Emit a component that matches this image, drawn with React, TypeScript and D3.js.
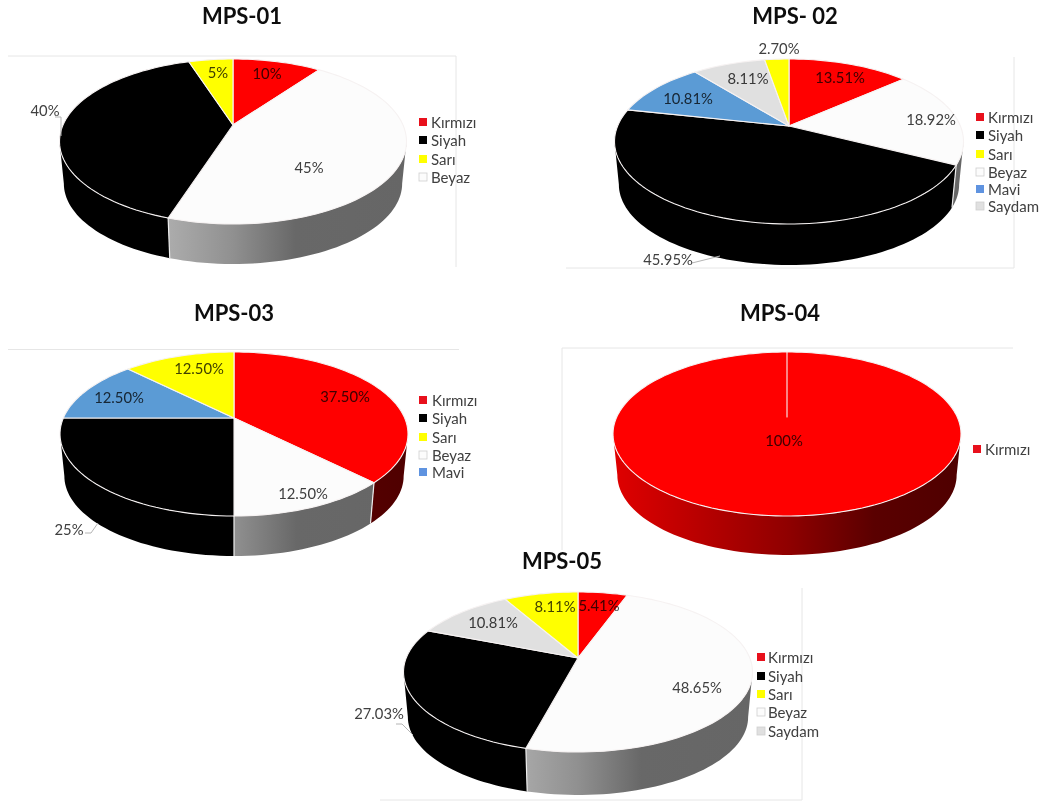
import React from "react";
import * as d3 from "d3";

// ---------- data ----------
const mps01Order = ["Kırmızı", "Beyaz", "Siyah", "Sarı"];
const mps01Values = [10, 45, 40, 5];
const mps01Labels = ["10%", "45%", "40%", "5%"];
const mps01Legend = ["Kırmızı", "Siyah", "Sarı", "Beyaz"];

const mps02Order = ["Kırmızı", "Beyaz", "Siyah", "Mavi", "Saydam", "Sarı"];
const mps02Values = [13.51, 18.92, 45.95, 10.81, 8.11, 2.7];
const mps02Labels = ["13.51%", "18.92%", "45.95%", "10.81%", "8.11%", "2.70%"];
const mps02Legend = ["Kırmızı", "Siyah", "Sarı", "Beyaz", "Mavi", "Saydam"];

const mps03Order = ["Kırmızı", "Beyaz", "Siyah", "Mavi", "Sarı"];
const mps03Values = [37.5, 12.5, 25, 12.5, 12.5];
const mps03Labels = ["37.50%", "12.50%", "25%", "12.50%", "12.50%"];
const mps03Legend = ["Kırmızı", "Siyah", "Sarı", "Beyaz", "Mavi"];

const mps04Order = ["Kırmızı"];
const mps04Values = [100];
const mps04Labels = ["100%"];
const mps04Legend = ["Kırmızı"];

const mps05Order = ["Kırmızı", "Beyaz", "Siyah", "Saydam", "Sarı"];
const mps05Values = [5.41, 48.65, 27.03, 10.81, 8.11];
const mps05Labels = ["5.41%", "48.65%", "27.03%", "10.81%", "8.11%"];
const mps05Legend = ["Kırmızı", "Siyah", "Sarı", "Beyaz", "Saydam"];

// ---------- styles ----------
const topColor: Record<string, string> = {
  "Kırmızı": "#ff0000",
  Siyah: "#000000",
  "Sarı": "#ffff00",
  Beyaz: "#fcfcfc",
  Mavi: "#5b9bd5",
  Saydam: "#e0e0e0",
};
const swatchColor: Record<string, string> = {
  ...topColor,
  Mavi: "#5f93e0",
  "Kırmızı": "#e8101c",
};
const FONT = "Lato, 'Open Sans', sans-serif";

// ---------- layout (pixels) ----------
type Layout = {
  title: string; titleX: number; titleY: number;
  ax: number; ay: number; rx: number; top: number; front: number; bottom: number;
  labelPos: [number, number][];
  leader?: [number, number][];
  legendX: number; legendTextX: number; legendY: number[];
  frame: [number, number][];
};

const pies: { id: string; order: string[]; values: number[]; labels: string[]; legend: string[]; l: Layout }[] = [
  {
    id: "p1", order: mps01Order, values: mps01Values, labels: mps01Labels, legend: mps01Legend,
    l: {
      title: "MPS-01", titleX: 242, titleY: 15, ax: 233, ay: 125, rx: 173.5, top: 59, front: 224, bottom: 264,
      labelPos: [[267, 73], [309, 167], [45, 110], [218, 72]],
      leader: [[55, 117], [61, 117], [61, 136]],
      legendX: 419, legendTextX: 431, legendY: [122, 140, 159, 177],
      frame: [[8, 56], [456, 56], [456, 267]],
    },
  },
  {
    id: "p2", order: mps02Order, values: mps02Values, labels: mps02Labels, legend: mps02Legend,
    l: {
      title: "MPS- 02", titleX: 795, titleY: 15, ax: 789, ay: 126, rx: 174.5, top: 59, front: 224, bottom: 265,
      labelPos: [[840, 77], [931, 119], [668, 259], [688, 98], [748, 78], [779, 48]],
      leader: [[692, 263], [720, 256]],
      legendX: 976, legendTextX: 988, legendY: [117, 135, 154, 172, 189, 206],
      frame: [[1014, 57], [1014, 268], [566, 268]],
    },
  },
  {
    id: "p3", order: mps03Order, values: mps03Values, labels: mps03Labels, legend: mps03Legend,
    l: {
      title: "MPS-03", titleX: 234, titleY: 312, ax: 234, ay: 418, rx: 174, top: 352, front: 516, bottom: 556,
      labelPos: [[345, 396], [303, 493], [69, 529], [119, 397], [199, 368]],
      leader: [[85, 533], [91, 533], [98, 523]],
      legendX: 419, legendTextX: 432, legendY: [400, 418, 437, 455, 472],
      frame: [[8, 349.5], [459, 349.5]],
    },
  },
  {
    id: "p4", order: mps04Order, values: mps04Values, labels: mps04Labels, legend: mps04Legend,
    l: {
      title: "MPS-04", titleX: 780, titleY: 312, ax: 787, ay: 417, rx: 174, top: 352, front: 516, bottom: 555,
      labelPos: [[784, 440]],
      legendX: 973, legendTextX: 985, legendY: [449],
      frame: [[1013, 348], [562, 348], [562, 550]],
    },
  },
  {
    id: "p5", order: mps05Order, values: mps05Values, labels: mps05Labels, legend: mps05Legend,
    l: {
      title: "MPS-05", titleX: 562, titleY: 560, ax: 578, ay: 658, rx: 174.5, top: 592, front: 752, bottom: 795,
      labelPos: [[599, 605], [697, 687], [379, 713], [493, 622], [555, 606]],
      leader: [[396, 724], [402, 724], [413, 735]],
      legendX: 757, legendTextX: 768, legendY: [657, 676, 694, 712, 731],
      frame: [[802, 588], [802, 800], [380, 800]],
    },
  },
];

const BOTTOM_SCALE = 0.975;
const lineGen = d3.line<[number, number]>();

function Pie({ id, order, values, labels, legend, l }: (typeof pies)[number]) {
  const t = l.ay - l.top;
  const f = l.front - l.ay;
  const k = (f - t) / (f + t);
  const B = t * (1 + k);
  const A = l.rx * Math.sqrt(1 - k * k);
  const bottomAy = l.bottom - BOTTOM_SCALE * f;

  const project = (a: number, level: 0 | 1): [number, number] => {
    const u = Math.sin(a);
    const v = -Math.cos(a);
    const w = 1 - k * v;
    const s = level === 0 ? 1 : BOTTOM_SCALE;
    const y0 = level === 0 ? l.ay : bottomAy;
    return [l.ax + (s * A * u) / w, y0 + (s * B * v) / w];
  };

  const arcs = d3.pie<number>().sort(null)(values);
  const sample = (a0: number, a1: number): number[] => {
    const n = Math.max(2, Math.ceil(((a1 - a0) / Math.PI) * 90));
    return d3.range(n + 1).map((i) => a0 + ((a1 - a0) * i) / n);
  };

  const visStart = Math.acos(-k);
  const visEnd = 2 * Math.PI - visStart;

  const sideFill = (name: string) => {
    if (name === "Kırmızı") return `url(#${id}-red)`;
    if (name === "Beyaz") return `url(#${id}-grey)`;
    if (name === "Siyah") return "#000";
    return d3.color(topColor[name])!.darker(1.5).formatHex();
  };

  const grad = (suffix: string, stops: [number, string][]) => (
    <linearGradient id={`${id}-${suffix}`} gradientUnits="userSpaceOnUse" x1={l.ax - l.rx} x2={l.ax + l.rx} y1={0} y2={0}>
      {stops.map(([o, c]) => <stop key={o} offset={o} stopColor={c} />)}
    </linearGradient>
  );

  const cuts = arcs
    .map((d) => d.startAngle)
    .filter((a) => a > visStart && a < visEnd);

  return (
    <g>
      <defs>
        {grad("red", [[0, "#e00000"], [0.3, "#b00000"], [0.5, "#900000"], [0.75, "#5a0000"], [1, "#4f0000"]])}
        {grad("grey", [[0, "#d0d0d0"], [0.3, "#aeaeae"], [0.5, "#909090"], [0.68, "#686868"], [1, "#666666"]])}
      </defs>

      <path d={lineGen(l.frame) ?? ""} fill="none" stroke="#e6e6e6" strokeWidth={1} />

      {/* side wall */}
      {arcs.map((d, i) => {
        const a0 = Math.max(d.startAngle, visStart);
        const a1 = Math.min(d.endAngle, visEnd);
        if (a1 <= a0) return null;
        const as = sample(a0, a1);
        const pts = [
          ...as.map((a) => project(a, 0)),
          ...as.slice().reverse().map((a) => project(a, 1)),
        ];
        return <path key={i} d={(lineGen(pts) ?? "") + "Z"} fill={sideFill(order[i])} />;
      })}
      {cuts.map((a, i) => (
        <path key={i} d={lineGen([project(a, 0), project(a, 1)]) ?? ""} stroke="#eeeeee" strokeWidth={1.2} fill="none" />
      ))}

      {/* top surface */}
      {arcs.map((d, i) => {
        const pts: [number, number][] = [[l.ax, l.ay], ...sample(d.startAngle, d.endAngle).map((a) => project(a, 0))];
        return <path key={i} d={(lineGen(pts) ?? "") + "Z"} fill={topColor[order[i]]} stroke="#f6f2f2" strokeWidth={1.1} strokeLinejoin="round" />;
      })}

      {/* leader */}
      {l.leader && <path d={lineGen(l.leader) ?? ""} fill="none" stroke="#b4b4b4" strokeWidth={1} />}

      {/* data labels */}
      {labels.map((s, i) => (
        <text key={i} x={l.labelPos[i][0]} y={l.labelPos[i][1]} textAnchor="middle" dominantBaseline="central"
          fontFamily={FONT} fontSize={14.8} fill="#404040" style={{ mixBlendMode: "multiply" }}>{s}</text>
      ))}

      {/* legend */}
      {legend.map((name, i) => (
        <g key={name}>
          <rect x={l.legendX} y={l.legendY[i] - 4} width={8} height={8} fill={swatchColor[name]}
            stroke={name === "Beyaz" || name === "Saydam" ? "#cfcfcf" : "none"} strokeWidth={0.8} />
          <text x={l.legendTextX} y={l.legendY[i]} dominantBaseline="central" fontFamily={FONT} fontSize={15} fill="#404040">{name}</text>
        </g>
      ))}

      <text x={l.titleX} y={l.titleY} textAnchor="middle" dominantBaseline="central"
        fontFamily={FONT} fontWeight={700} fontSize={22} fill="#0d0d0d">{l.title}</text>
    </g>
  );
}

export default function App() {
  return (
    <svg width={1052} height={801} style={{ position: "absolute", left: 0, top: 0, background: "#fff", display: "block" }}>
      <defs>
        <filter id="soft" x="0" y="0" width="1" height="1" filterUnits="objectBoundingBox" colorInterpolationFilters="sRGB">
          <feGaussianBlur stdDeviation={0.45} />
        </filter>
      </defs>
      <g style={{ isolation: "isolate" }} filter="url(#soft)">
        <rect x={0} y={0} width={1052} height={801} fill="#fff" />
        {pies.map((p) => <Pie key={p.id} {...p} />)}
      </g>
    </svg>
  );
}
